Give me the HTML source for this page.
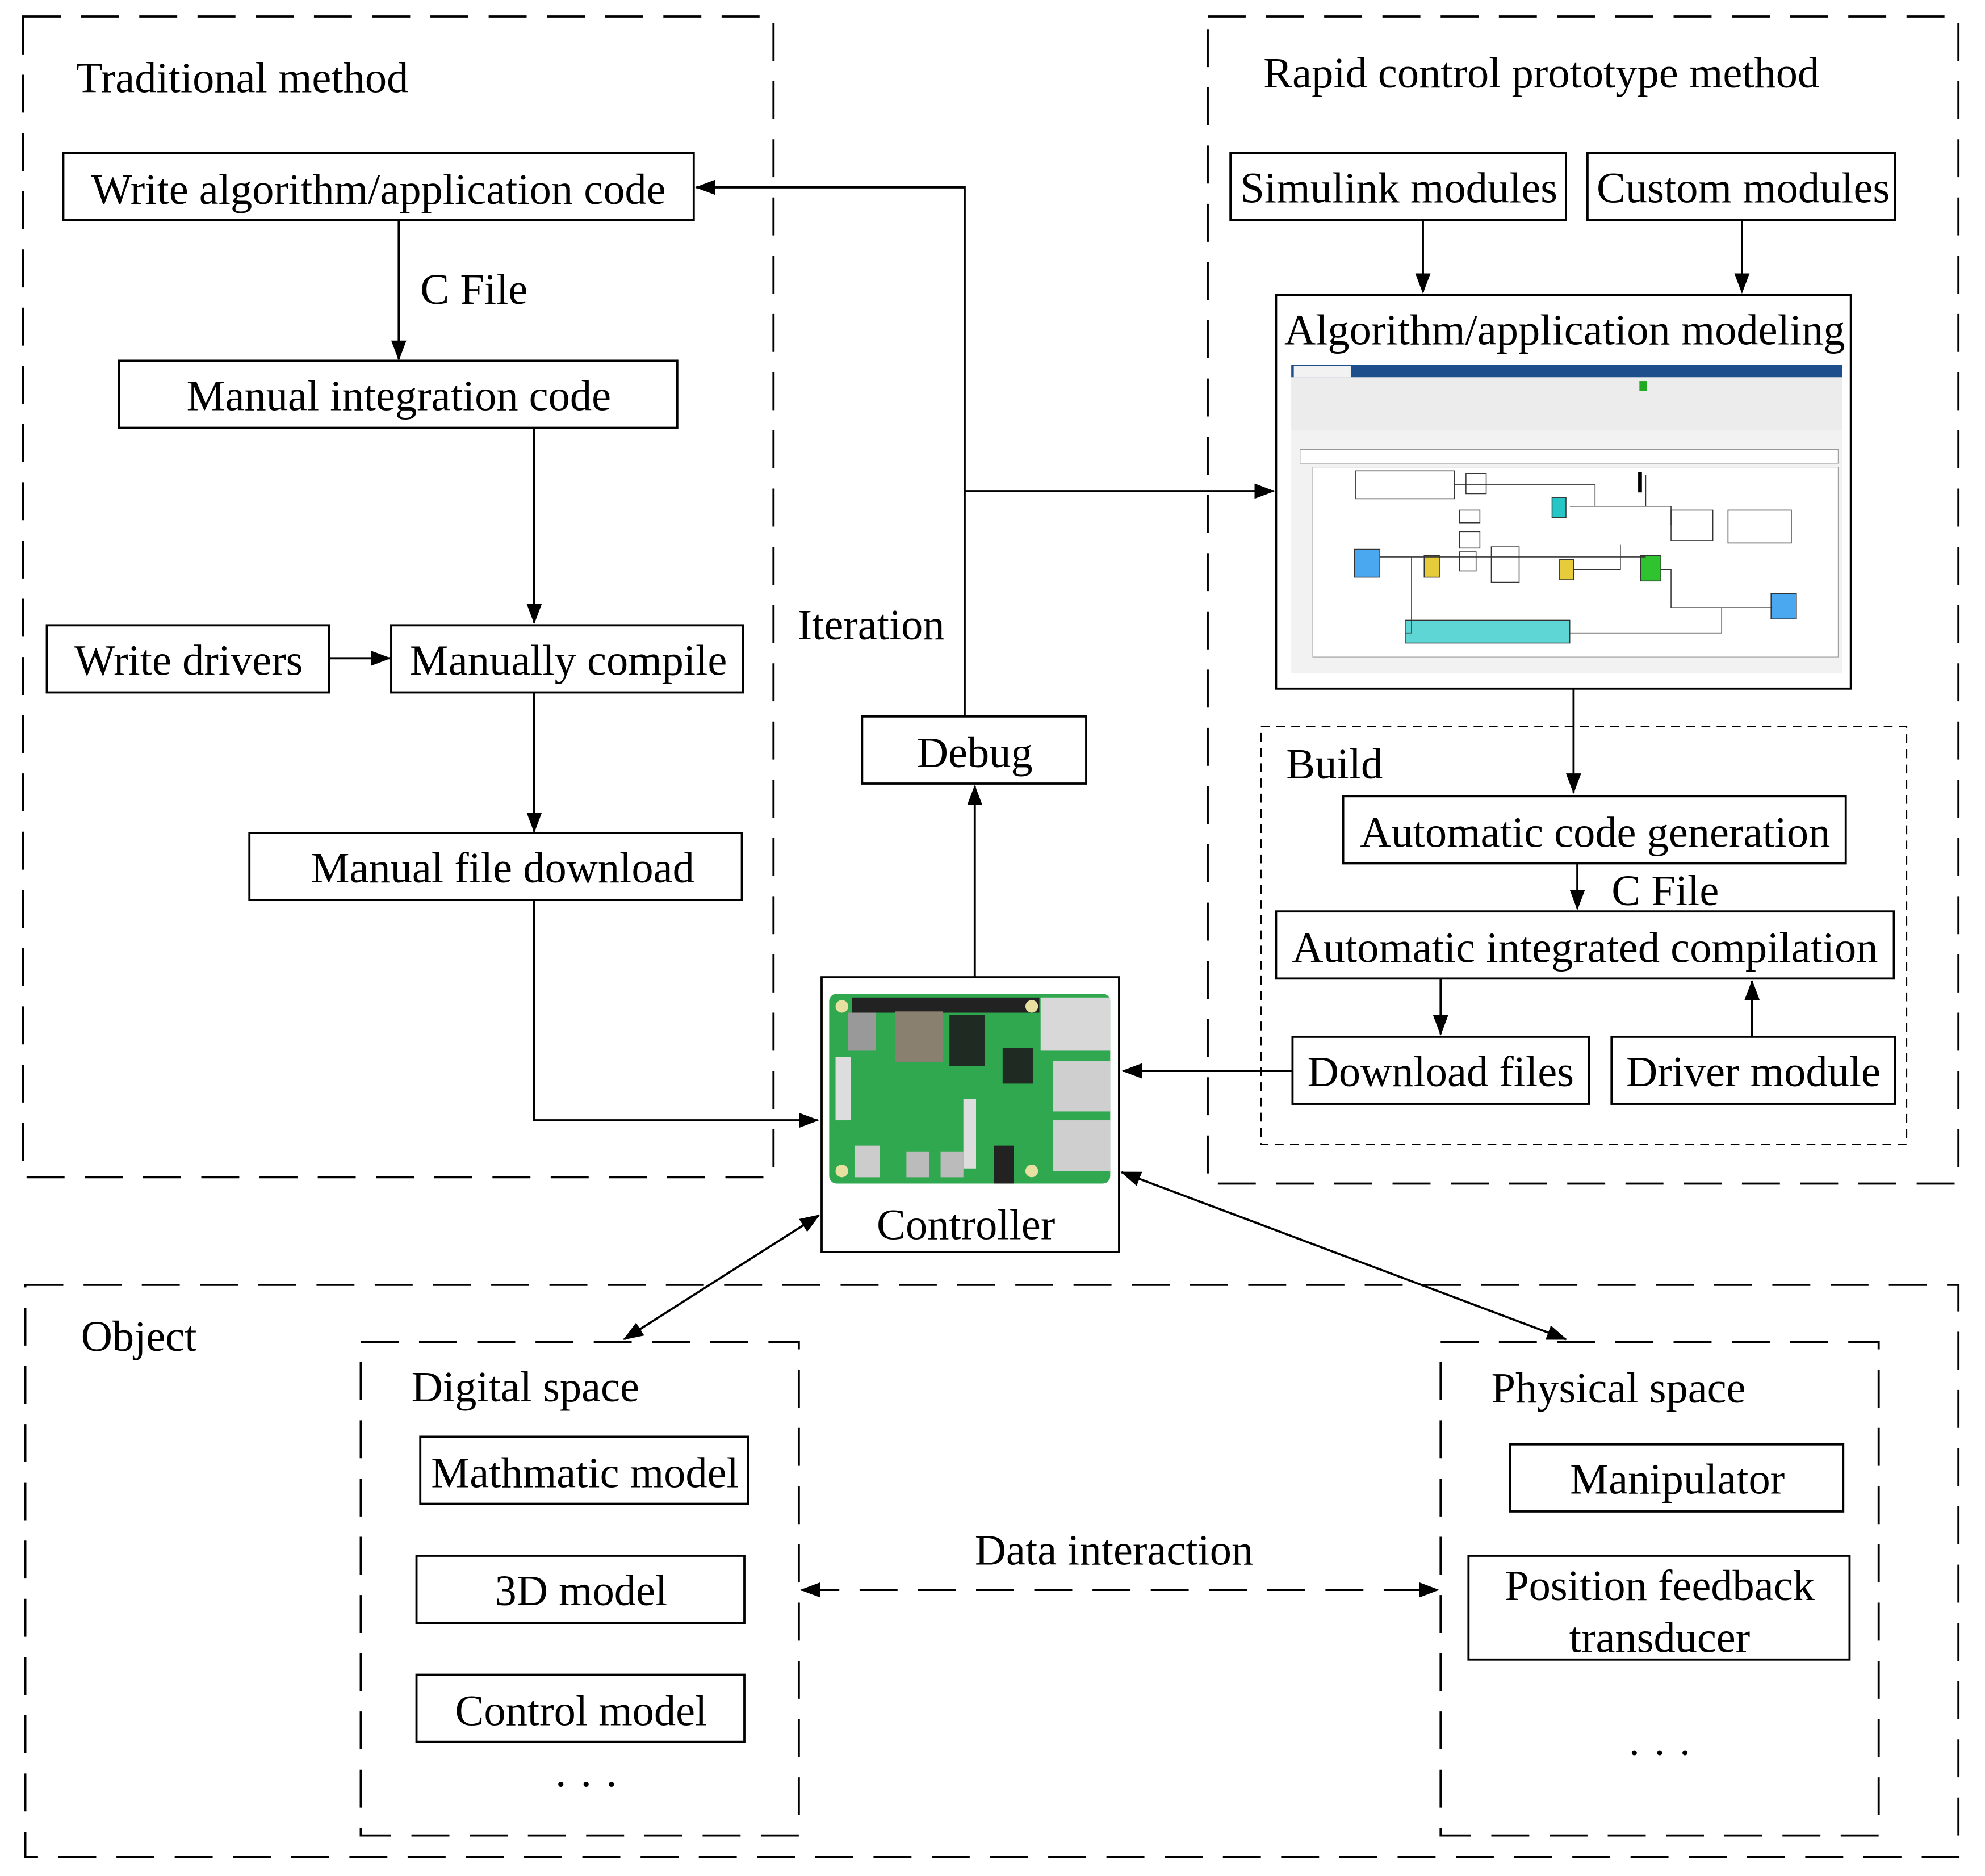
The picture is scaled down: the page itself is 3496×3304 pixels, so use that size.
<!DOCTYPE html>
<html><head><meta charset="utf-8"><style>
html,body{margin:0;padding:0;background:#fff}
svg{display:block}
text{font-family:"Liberation Serif",serif;fill:#000}
</style></head><body>
<svg width="3496" height="3304" viewBox="0 0 1568 1482" preserveAspectRatio="none" xmlns="http://www.w3.org/2000/svg">
<defs>
<marker id="a" markerWidth="16" markerHeight="12" refX="15" refY="6" orient="auto" markerUnits="userSpaceOnUse">
<path d="M0,0 L16,6 L0,12 Z" fill="#000"/></marker>
<marker id="as" markerWidth="16" markerHeight="12" refX="1" refY="6" orient="auto" markerUnits="userSpaceOnUse">
<path d="M16,0 L0,6 L16,12 Z" fill="#000"/></marker>
</defs>
<g fill="none" stroke="#000" stroke-width="1.7">
<rect x="18" y="13" width="593" height="917" stroke-dasharray="30,16"/>
<rect x="954" y="13" width="593" height="922" stroke-dasharray="30,16"/>
<rect x="20" y="1015" width="1527" height="452" stroke-dasharray="30,16"/>
<rect x="285" y="1060" width="346" height="390" stroke-dasharray="30,16"/>
<rect x="1138" y="1060" width="346" height="390" stroke-dasharray="30,16"/>
<rect x="996" y="574" width="510" height="330" stroke-dasharray="7,5" stroke-width="1.2"/>
<rect x="50" y="121" width="498" height="53"/>
<rect x="94" y="285" width="441" height="53"/>
<rect x="37" y="494" width="223" height="53"/>
<rect x="309" y="494" width="278" height="53"/>
<rect x="197" y="658" width="389" height="53"/>
<rect x="681" y="566" width="177" height="53"/>
<rect x="649" y="772" width="235" height="217"/>
<rect x="972" y="121" width="265" height="53"/>
<rect x="1254" y="121" width="243" height="53"/>
<rect x="1008" y="233" width="454" height="311"/>
<rect x="1061" y="629" width="397" height="53"/>
<rect x="1008" y="720" width="488" height="53"/>
<rect x="1021" y="819" width="234" height="53"/>
<rect x="1273" y="819" width="224" height="53"/>
<rect x="332" y="1135" width="259" height="53"/>
<rect x="329" y="1229" width="259" height="53"/>
<rect x="329" y="1323" width="259" height="53"/>
<rect x="1193" y="1141" width="263" height="53"/>
<rect x="1160" y="1229" width="301" height="82"/>
<path d="M315,174 V284" marker-end="url(#a)"/>
<path d="M422,338 V492" marker-end="url(#a)"/>
<path d="M260,520 H308" marker-end="url(#a)"/>
<path d="M422,547 V657" marker-end="url(#a)"/>
<path d="M422,711 V885 H646" marker-end="url(#a)"/>
<path d="M770,772 V621" marker-end="url(#a)"/>
<path d="M762,566 V148 H550" marker-end="url(#a)"/>
<path d="M762,388 H1006" marker-end="url(#a)"/>
<path d="M1124,174 V231" marker-end="url(#a)"/>
<path d="M1376,174 V231" marker-end="url(#a)"/>
<path d="M1243,544 V626" marker-end="url(#a)"/>
<path d="M1246,682 V718" marker-end="url(#a)"/>
<path d="M1138,773 V817" marker-end="url(#a)"/>
<path d="M1384,819 V775" marker-end="url(#a)"/>
<path d="M1021,846 H887" marker-end="url(#a)"/>
<path d="M647,960 L493,1058" marker-end="url(#a)" marker-start="url(#as)"/>
<path d="M886,926 L1237,1058" marker-end="url(#a)" marker-start="url(#as)"/>
<path d="M633,1256 H1136" stroke-dasharray="30,16" marker-end="url(#a)" marker-start="url(#as)"/>
</g>
<g>
<rect x="1020" y="288" width="435" height="244" fill="#f2f2f2"/>
<rect x="1020" y="288" width="435" height="10" fill="#1f4e8c"/>
<rect x="1022" y="289" width="45" height="9" fill="#f2f2f2"/>
<rect x="1020" y="298" width="435" height="42" fill="#ececec"/>
<rect x="1027" y="355" width="425" height="11" fill="#fff" stroke="#999" stroke-width=".5"/>
<rect x="1037" y="369" width="415" height="150" fill="#fff" stroke="#999" stroke-width=".5"/>
<rect x="1295" y="301" width="6" height="8" fill="#2a2"/>
<g stroke="#333" stroke-width=".7" fill="#fff">
<rect x="1071" y="372" width="78" height="22"/>
<rect x="1158" y="374" width="16" height="16"/>
<rect x="1320" y="403" width="33" height="24"/>
<rect x="1365" y="403" width="50" height="26"/>
<rect x="1153" y="403" width="16" height="10"/>
<rect x="1153" y="420" width="16" height="13"/>
<rect x="1178" y="432" width="22" height="28"/>
<rect x="1153" y="436" width="13" height="15"/>
<rect x="1110" y="490" width="130" height="18" fill="#5fd6d6"/>
<rect x="1070" y="434" width="20" height="22" fill="#4aa8f0"/>
<rect x="1399" y="469" width="20" height="20" fill="#4aa8f0"/>
<rect x="1296" y="439" width="16" height="20" fill="#2fc42f"/>
<rect x="1226" y="393" width="11" height="16" fill="#26c6c6"/>
<rect x="1125" y="439" width="12" height="17" fill="#e6cc3a"/>
<rect x="1232" y="442" width="11" height="16" fill="#e6cc3a"/>
<path d="M1149,383 H1260 V400 M1174,383 H1180 M1240,400 H1300 V375 M1260,400 H1320 V415 M1090,440 H1300 M1243,450 H1280 V430 M1312,450 H1320 V480 H1400 M1115,440 V500 H1110 M1240,500 H1360 V480" fill="none"/>
</g>
<rect x="1294" y="373" width="3" height="16" fill="#000"/>
</g>
<g>
<rect x="655" y="785" width="222" height="150" rx="6" fill="#2fa84f"/>
<rect x="673" y="788" width="148" height="12" fill="#222"/>
<rect x="822" y="788" width="55" height="42" fill="#d8d8d8"/>
<rect x="832" y="838" width="45" height="40" fill="#cfcfcf"/>
<rect x="832" y="885" width="45" height="40" fill="#cfcfcf"/>
<rect x="707" y="799" width="38" height="40" fill="#8a8070"/>
<rect x="750" y="802" width="28" height="40" fill="#1e2a22"/>
<rect x="792" y="828" width="24" height="28" fill="#1e2a22"/>
<rect x="670" y="800" width="22" height="30" fill="#999"/>
<rect x="660" y="835" width="12" height="50" fill="#ddd"/>
<rect x="761" y="868" width="10" height="55" fill="#ddd"/>
<rect x="675" y="905" width="20" height="25" fill="#ccc"/>
<rect x="716" y="910" width="18" height="20" fill="#bbb"/>
<rect x="743" y="910" width="18" height="20" fill="#bbb"/>
<rect x="785" y="905" width="16" height="30" fill="#222"/>
<circle cx="665" cy="795" r="5" fill="#e8e0a0"/><circle cx="665" cy="925" r="5" fill="#e8e0a0"/>
<circle cx="815" cy="795" r="5" fill="#e8e0a0"/><circle cx="815" cy="925" r="5" fill="#e8e0a0"/>
</g>
<g font-size="34.3">
<text x="60" y="73">Traditional method</text>
<text x="299" y="161" text-anchor="middle">Write algorithm/application code</text>
<text x="332" y="240">C File</text>
<text x="315" y="324" text-anchor="middle">Manual integration code</text>
<text x="149" y="533" text-anchor="middle">Write drivers</text>
<text x="449" y="533" text-anchor="middle">Manually compile</text>
<text x="397" y="697" text-anchor="middle">Manual file download</text>
<text x="630" y="505">Iteration</text>
<text x="770" y="606" text-anchor="middle">Debug</text>
<text x="763" y="979" text-anchor="middle">Controller</text>
<text x="998" y="69">Rapid control prototype method</text>
<text x="1105" y="160" text-anchor="middle">Simulink modules</text>
<text x="1377" y="160" text-anchor="middle">Custom modules</text>
<text x="1236" y="272" text-anchor="middle">Algorithm/application modeling</text>
<text x="1016" y="615">Build</text>
<text x="1260" y="669" text-anchor="middle">Automatic code generation</text>
<text x="1273" y="715">C File</text>
<text x="1252" y="760" text-anchor="middle">Automatic integrated compilation</text>
<text x="1138" y="858" text-anchor="middle">Download files</text>
<text x="1385" y="858" text-anchor="middle">Driver module</text>
<text x="64" y="1067">Object</text>
<text x="325" y="1107">Digital space</text>
<text x="1178" y="1108">Physical space</text>
<text x="462" y="1175" text-anchor="middle">Mathmatic model</text>
<text x="459" y="1268" text-anchor="middle">3D model</text>
<text x="459" y="1363" text-anchor="middle">Control model</text>
<text x="463" y="1421" text-anchor="middle">· · ·</text>
<text x="1311" y="1396" text-anchor="middle">· · ·</text>
<text x="880" y="1236" text-anchor="middle">Data interaction</text>
<text x="1325" y="1180" text-anchor="middle">Manipulator</text>
<text x="1311" y="1264" text-anchor="middle">Position feedback</text>
<text x="1311" y="1305" text-anchor="middle">transducer</text>
</g>
</svg>
</body></html>
